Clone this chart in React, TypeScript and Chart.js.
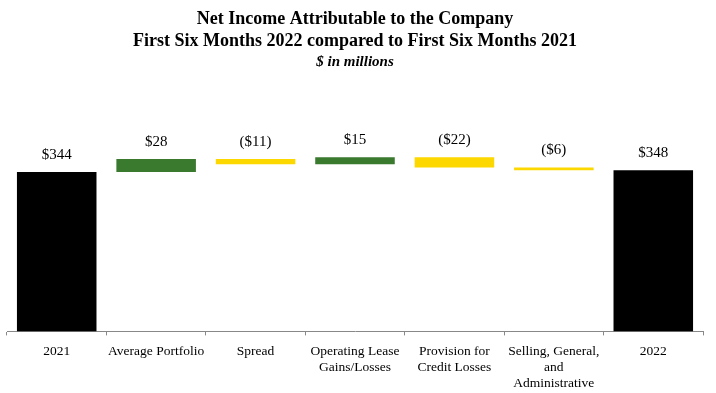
import React, { useEffect, useRef } from "react";
import { Chart, registerables } from "chart.js";

Chart.register(...registerables);

const categories: string[][] = [
  ["2021"],
  ["Average Portfolio"],
  ["Spread"],
  ["Operating Lease", "Gains/Losses"],
  ["Provision for", "Credit Losses"],
  ["Selling, General,", "and", "Administrative"],
  ["2022"],
];
const startValue = 344;
const changes = [28, -11, 15, -22, -6];
const endValue = 348;

const TOTAL_COLOR = "#000000";
const UP_COLOR = "#3a7a2e";
const DOWN_COLOR = "#fcd700";
const SERIF = '"Liberation Serif", "Times New Roman", serif';

function buildSeries() {
  const ranges: [number, number][] = [[0, startValue]];
  const labels: string[] = ["$" + startValue];
  const colors: string[] = [TOTAL_COLOR];
  let running = startValue;
  for (const c of changes) {
    const next = running + c;
    ranges.push([Math.min(running, next), Math.max(running, next)]);
    labels.push(c >= 0 ? "$" + c : "($" + -c + ")");
    colors.push(c >= 0 ? UP_COLOR : DOWN_COLOR);
    running = next;
  }
  ranges.push([0, endValue]);
  labels.push("$" + endValue);
  colors.push(TOTAL_COLOR);
  return { ranges, labels, colors };
}

export default function App() {
  const ref = useRef<HTMLCanvasElement | null>(null);
  useEffect(() => {
    if (!ref.current) return;
    const { ranges, labels, colors } = buildSeries();
    const labelPlugin = {
      id: "barLabels",
      afterDatasetsDraw(chart: any) {
        const ctx = chart.ctx;
        const meta = chart.getDatasetMeta(0);
        ctx.save();
        ctx.font = "15px " + SERIF;
        ctx.fillStyle = "#000";
        ctx.textAlign = "center";
        ctx.textBaseline = "middle";
        meta.data.forEach((bar: any, i: number) => {
          const top = Math.min(bar.y, bar.base);
          ctx.fillText(labels[i], bar.x, top - 17);
        });
        ctx.restore();
      },
    };
    const chart = new Chart(ref.current, {
      type: "bar",
      data: {
        labels: categories,
        datasets: [
          {
            data: ranges as any,
            backgroundColor: colors,
            borderWidth: 0,
            barPercentage: 0.8,
            categoryPercentage: 1.0,
          },
        ],
      },
      options: {
        responsive: false,
        animation: false,
        layout: { padding: { left: 7, right: 13, top: 0, bottom: -7 } },
        plugins: {
          legend: { display: false },
          tooltip: { enabled: false },
          title: {
            display: true,
            text: [
              "Net Income Attributable to the Company",
              "First Six Months 2022 compared to First Six Months 2021",
            ],
            color: "#000",
            font: { family: SERIF, size: 18, weight: "bold", lineHeight: 1.25 },
            padding: { top: 8, bottom: 0 },
          },
          subtitle: {
            display: true,
            text: "$ in millions",
            color: "#000",
            font: { family: SERIF, size: 15, weight: "bold", style: "italic", lineHeight: 1.2 },
            padding: { top: 0, bottom: 1 },
          },
        },
        scales: {
          x: {
            grid: {
              display: true,
              drawOnChartArea: false,
              drawTicks: true,
              tickLength: 4,
              offset: true,
              color: "#888888",
            },
            border: { display: true, color: "#888888", width: 1 },
            ticks: {
              color: "#000",
              font: { family: SERIF, size: 13.5, lineHeight: 1.2 },
              padding: 8,
              maxRotation: 0,
              autoSkip: false,
            },
          },
          y: {
            display: false,
            min: 0,
            max: 560,
          },
        },
      },
      plugins: [labelPlugin],
    });
    return () => chart.destroy();
  }, []);
  return (
    <div style={{ position: "fixed", left: 0, top: 0, width: 716, height: 393, background: "#fff" }}>
      <canvas ref={ref} width={716} height={393} style={{ display: "block" }} />
    </div>
  );
}
